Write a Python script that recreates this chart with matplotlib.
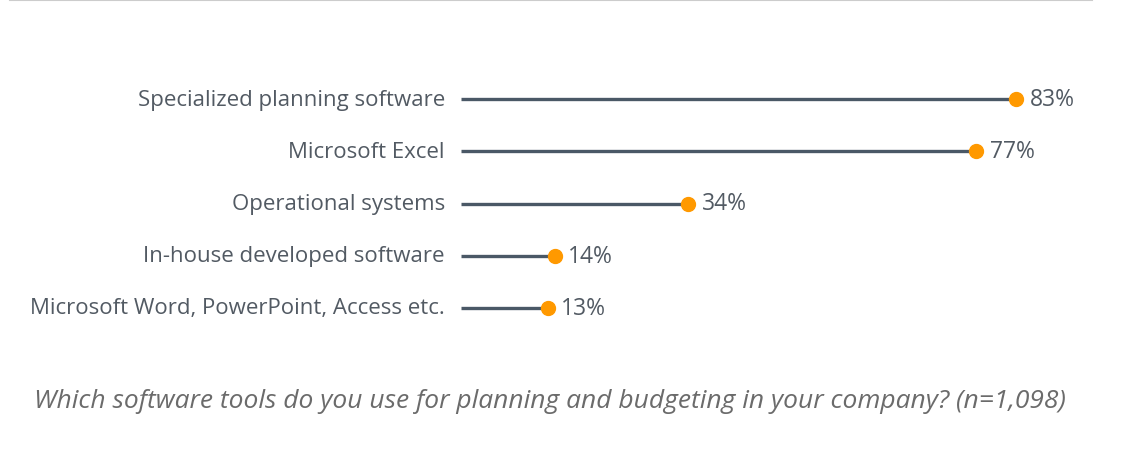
import matplotlib.pyplot as plt
from matplotlib.lines import Line2D

categories = ['Specialized planning software', 'Microsoft Excel', 'Operational systems',
              'In-house developed software', 'Microsoft Word, PowerPoint, Access etc.']
values = [83, 77, 34, 14, 13]
caption = 'Which software tools do you use for planning and budgeting in your company? (n=1,098)'

W, H = 1136, 456
fig = plt.figure(figsize=(W / 100, H / 100), dpi=100)
plt.rcParams['font.family'] = ['Open Sans', 'DejaVu Sans']

# axes placed in pixel terms: x 0..100% -> 461..1130 px, rows at y 99..308 px
ax = fig.add_axes([461 / W, (H - 335) / H, (1130 - 461) / W, 261 / H])
ax.set_xlim(0, 100)
ax.set_ylim(len(categories) - 0.5, -0.5)
ax.axis('off')

line_col = '#4a5866'
dot_col = '#ff9900'
txt_col = '#525a63'

for i, (cat, v) in enumerate(zip(categories, values)):
    ax.plot([0, v], [i, i], color=line_col, lw=2.4, solid_capstyle='butt', zorder=1)
    ax.plot(v, i, 'o', color=dot_col, ms=10, mec=dot_col, zorder=2)
    ax.text(-2.4, i, cat, ha='right', va='center', fontsize=16, color=txt_col)
    ax.text(v + 2.0, i, f'{v}%', ha='left', va='center', fontsize=16.5, color=txt_col)

fig.text(34 / W, 1 - 402 / H, caption, ha='left', va='center', fontsize=19,
         style='italic', color='#6b6b6b')

# thin grey rule at the very top
fig.add_artist(Line2D([10 / W, 1092 / W], [1 - 1 / H, 1 - 1 / H], color='#cccccc', lw=1.5))

fig.savefig('out.png', dpi=100, facecolor='white')
